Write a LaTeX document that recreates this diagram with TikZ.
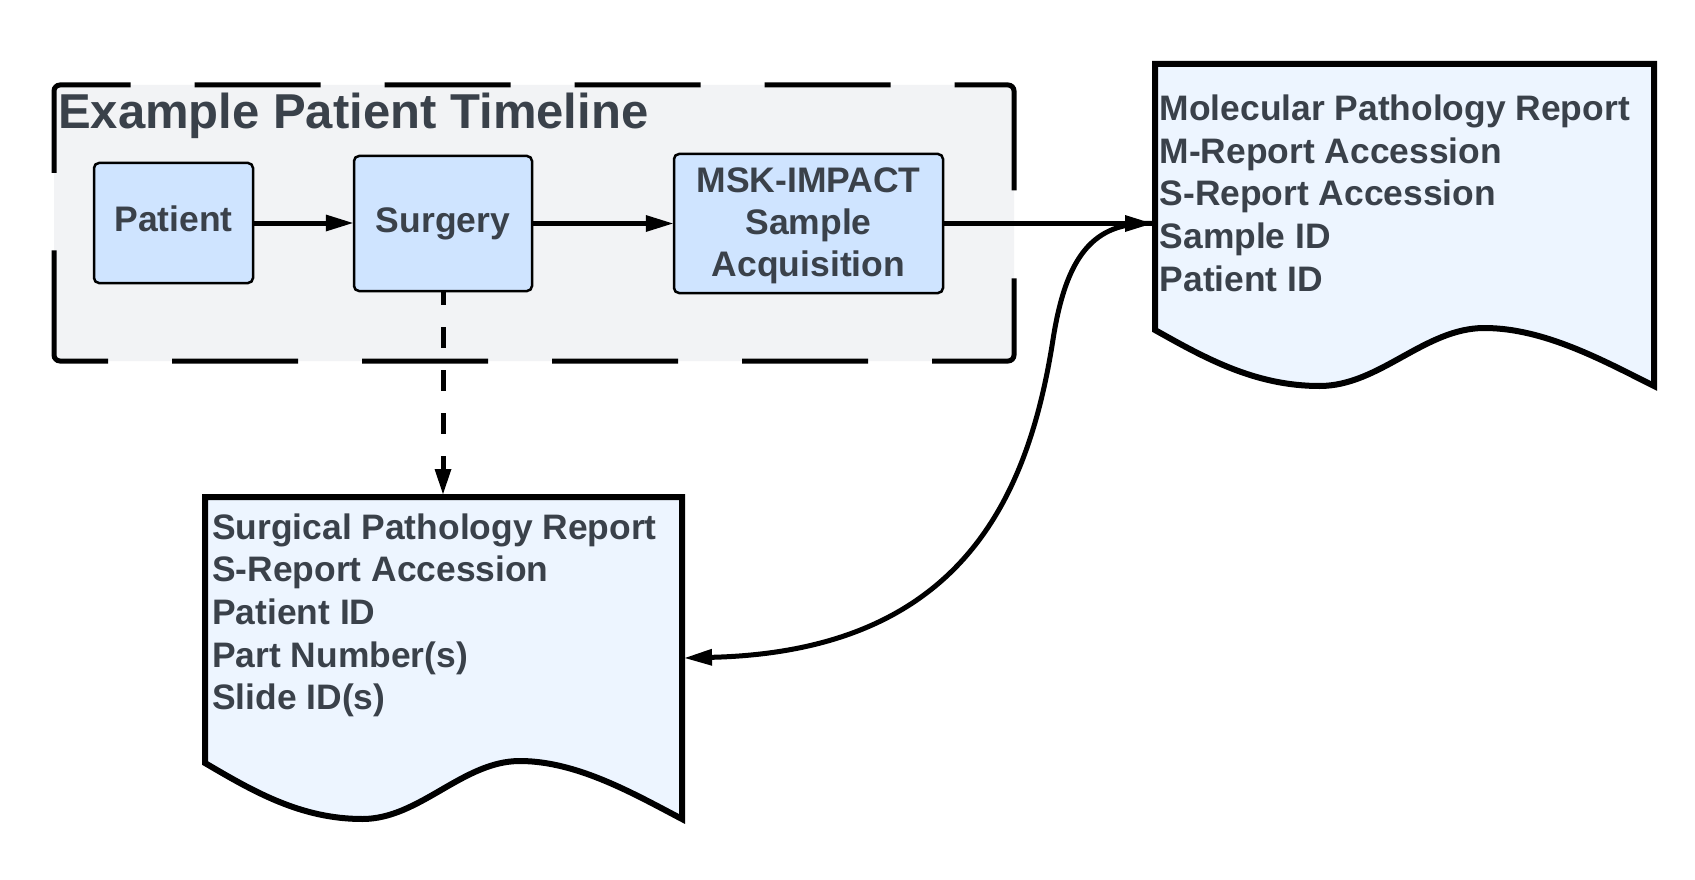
\documentclass[tikz,border=0pt]{standalone}
\usepackage{fontspec}
\setmainfont{Liberation Sans}
\usetikzlibrary{arrows.meta,calc}
\definecolor{txt}{HTML}{3A414A}
\definecolor{boxfill}{HTML}{CFE4FF}
\definecolor{docfill}{HTML}{EDF5FF}
\definecolor{groupfill}{HTML}{F2F3F5}
\newcommand\drawdocshape[2]{%
  \begin{scope}[shift={([xshift=3pt,yshift=3pt]#1.south west)}]
    \draw[docline] (0,-56) -- (0,-322) -- (#2,-322) -- (#2,0)
      .. controls ({0.9*#2},-25) and ({0.78*#2},-58) .. ({0.66*#2},-58)
      .. controls ({0.54*#2},-58) and ({0.45*#2},0) .. ({0.33*#2},0)
      .. controls ({0.2*#2},0) and ({0.1*#2},-28) .. (0,-56) -- cycle;
  \end{scope}}
\begin{document}
\begin{tikzpicture}[x=1pt,y=-1pt,
  stepbox/.style={draw=black, line width=2.5pt, fill=boxfill, rounded corners=5pt,
    text=txt, font=\fontsize{35.5}{42}\selectfont\bfseries, align=center, inner sep=0pt},
  oneline/.style={text height=26pt, text depth=9pt},
  docnode/.style={draw=none, inner sep=0pt, outer sep=3pt, minimum height=322pt},
  docline/.style={draw=black, line width=6pt, fill=docfill, line join=miter},
  doctext/.style={text=txt, font=\fontsize{35.4}{42.6}\selectfont\bfseries, inner sep=0pt, anchor=base west},
  conn/.style={line width=5pt, -{Triangle[length=27pt,width=17pt,line width=0pt]}},
  grouptitle/.style={text=txt, font=\fontsize{49}{56}\selectfont\bfseries, anchor=base west, inner sep=0pt},
]
\fill[white] (0,0) rectangle (1695,880);
\useasboundingbox (0,0) rectangle (1695,880);

% group container
\fill[groupfill, rounded corners=6pt] (54,85) rectangle (1014,361);
\draw[line width=5pt, rounded corners=6pt,
  dash pattern=on 162pt off 64pt on 126pt off 64pt on 126pt off 64pt on 126pt off 64pt on 126pt off 64pt on 162pt off 88pt on 162pt off 64pt on 126pt off 64pt on 126pt off 64pt on 126pt off 64pt on 126pt off 64pt on 162pt off 88pt,
  dash phase=2428pt]
  (54,223) -- (54,85) -- (1014,85) -- (1014,361) -- (54,361) -- cycle;
\node[grouptitle] (title) at (58,129) {Example Patient Timeline};

% steps
\node[stepbox, oneline, minimum width=159pt, minimum height=120pt] (patient) at (173.5,223) {Patient};
\node[stepbox, oneline, minimum width=178pt, minimum height=135pt] (surg) at (443,223.5) {Surgery};
\node[stepbox, minimum width=269pt, minimum height=139pt] (msk) at (808.5,223.5)
  {\raisebox{-3pt}[\height][\depth]{\begin{tabular}{@{}c@{}}MSK-IMPACT\\Sample\\Acquisition\end{tabular}}};

% documents
\node[docnode, minimum width=499pt] (mol) at (1404.5,225) {};
\drawdocshape{mol}{499}
\node[doctext] (moltext) at ([xshift=7.5pt,yshift=-59.7pt]mol.north west)
  {\begin{tabular}[t]{@{}l@{}}Molecular Pathology Report\\M-Report Accession\\S-Report Accession\\Sample ID\\Patient ID\end{tabular}};

\node[docnode, minimum width=477pt] (surgdoc) at (443.5,658) {};
\drawdocshape{surgdoc}{477}
\node[doctext] (surgtext) at ([xshift=10pt,yshift=-45.3pt]surgdoc.north west)
  {\begin{tabular}[t]{@{}l@{}}Surgical Pathology Report\\S-Report Accession\\Patient ID\\Part Number(s)\\Slide ID(s)\end{tabular}};

% connectors
\draw[conn] (patient.east) -- (patient.east -| surg.west);
\draw[conn] (surg.east) -- (surg.east -| msk.west);
\draw[conn] (msk.east) -- (msk.east -| mol.west);
\coordinate (curvestart) at (msk.east -| mol.west);
\coordinate (bend) at ($(curvestart)+(-99,116)$);
\draw[conn] (curvestart) .. controls +(-59,-2) and +(13,-83) .. (bend)
  .. controls +(-25,160) and +(275,-7) .. (surgdoc.east);
\draw[conn, dash pattern=on 21pt off 22pt, dash phase=8pt,
  -{Triangle[length=25pt,width=17pt,line width=0pt]}]
  (surg.south) -- (surg.south |- surgdoc.north);
\end{tikzpicture}
\end{document}
